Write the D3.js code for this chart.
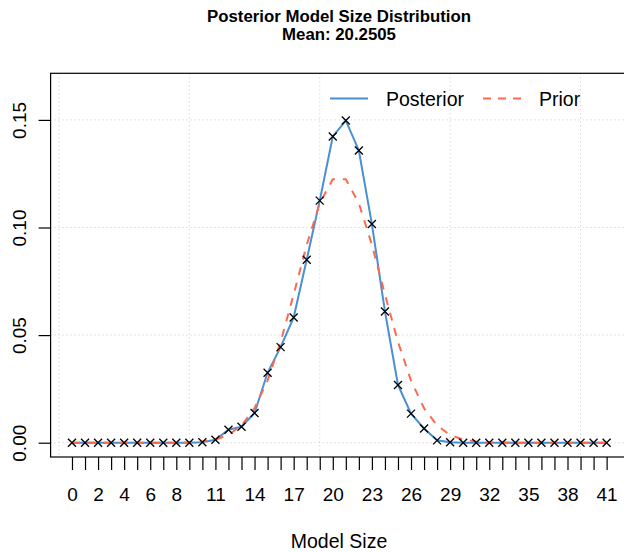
<!DOCTYPE html>
<html>
<head>
<meta charset="utf-8">
<script src="https://cdn.jsdelivr.net/npm/d3@7.9.0/dist/d3.min.js"></script>
<style>
  body { margin: 0; background: #fff; }
  svg { display: block; font-family: "Liberation Sans", Arial, sans-serif; }
</style>
</head>
<body>
<svg id="chart" width="624" height="552"></svg>
<script>
// model sizes 0..41
const modelSizes = d3.range(0, 42);

// posterior model size probabilities
const posterior = [
  0, 0, 0, 0, 0, 0, 0, 0, 0, 0,
  0.0002, 0.0014, 0.0060, 0.0074, 0.0138, 0.0325, 0.0444, 0.0582, 0.0850, 0.1125,
  0.1423, 0.1497, 0.1358, 0.1016, 0.0610, 0.0268, 0.0135, 0.0066, 0.0011, 0.0002,
  0, 0, 0, 0, 0, 0, 0, 0, 0, 0, 0, 0
];

// prior model size probabilities
const prior = [
  0, 0, 0, 0, 0, 0, 0, 0.00001, 0.00004, 0.00016,
  0.00051, 0.00144, 0.00359, 0.00801, 0.01603, 0.02885, 0.04687, 0.06893, 0.09191, 0.11126,
  0.12238, 0.12238, 0.11126, 0.09191, 0.06893, 0.04687, 0.02885, 0.01603, 0.00801, 0.00359,
  0.00144, 0.00051, 0.00016, 0.00004, 0.00001, 0, 0, 0, 0, 0, 0, 0
];

const xTickLabels = [0, 2, 4, 6, 8, 11, 14, 17, 20, 23, 26, 29, 32, 35, 38, 41];
const yTicks = [0, 0.05, 0.10, 0.15];
const xGrid = [-1, 9, 19, 29, 39];
const legendItems = ["Posterior", "Prior"];

const titleLines = ["Posterior Model Size Distribution", "Mean: 20.2505"];

const blue = "#4a8fd4";
const red = "#fb6a4e";

const plotL = 50.6, plotR = 628, plotT = 73.3, plotB = 457;

const svg = d3.select("#chart");

const x = d3.scaleLinear().domain([-1.64, 42.64]).range([plotL, plotR]);
const y = d3.scaleLinear().domain([-0.00664, 0.17165]).range([plotB, plotT]);

// grid
svg.append("g")
  .selectAll("line")
  .data(xGrid)
  .join("line")
  .attr("x1", d => x(d)).attr("x2", d => x(d))
  .attr("y1", plotT).attr("y2", plotB)
  .attr("stroke", "#c8c8c8").attr("stroke-dasharray", "1,3");

svg.append("g")
  .selectAll("line")
  .data(yTicks)
  .join("line")
  .attr("x1", plotL).attr("x2", plotR)
  .attr("y1", d => y(d)).attr("y2", d => y(d))
  .attr("stroke", "#c8c8c8").attr("stroke-dasharray", "1,3");

// lines
const line = d3.line().x((d, i) => x(modelSizes[i])).y(d => y(d));

svg.append("path")
  .attr("d", line(posterior))
  .attr("fill", "none")
  .attr("stroke", blue)
  .attr("stroke-width", 2);

svg.append("path")
  .attr("d", line(prior))
  .attr("fill", "none")
  .attr("stroke", red)
  .attr("stroke-width", 2)
  .attr("stroke-dasharray", "8,8");

// crosses
const s = 4;
svg.append("g")
  .selectAll("path")
  .data(posterior)
  .join("path")
  .attr("d", (d, i) => {
    const cx = x(modelSizes[i]), cy = y(d);
    return `M${cx - s},${cy - s}L${cx + s},${cy + s}M${cx - s},${cy + s}L${cx + s},${cy - s}`;
  })
  .attr("stroke", "#000")
  .attr("stroke-width", 1.3);

// box
svg.append("rect")
  .attr("x", plotL).attr("y", plotT)
  .attr("width", plotR - plotL).attr("height", plotB - plotT)
  .attr("fill", "none").attr("stroke", "#000").attr("stroke-width", 1.2);

// x axis
const xAxis = svg.append("g").attr("transform", `translate(0,${plotB})`)
  .call(d3.axisBottom(x).tickValues(modelSizes).tickSize(13).tickPadding(18)
    .tickFormat(d => xTickLabels.includes(d) ? d : ""));
xAxis.select(".domain").remove();
xAxis.selectAll("line").attr("stroke", "#000").attr("stroke-width", 1.2);
xAxis.selectAll("text")
  .attr("font-size", 19).attr("font-family", "Liberation Sans, Arial, sans-serif")
  .attr("fill", "#000");

// y axis
const yAxis = svg.append("g").attr("transform", `translate(${plotL},0)`)
  .call(d3.axisLeft(y).tickValues(yTicks).tickSize(12).tickFormat(d3.format(".2f")));
yAxis.select(".domain").remove();
yAxis.selectAll("line").attr("stroke", "#000").attr("stroke-width", 1.2);
yAxis.selectAll("text")
  .attr("font-size", 19).attr("font-family", "Liberation Sans, Arial, sans-serif")
  .attr("fill", "#000")
  .attr("x", null).attr("dy", null)
  .attr("text-anchor", "middle")
  .attr("transform", "translate(-25,0) rotate(-90)");

// axis title
svg.append("text")
  .attr("x", 339).attr("y", 548)
  .attr("text-anchor", "middle")
  .attr("font-size", 19.5)
  .text("Model Size");

// title
svg.append("g")
  .selectAll("text")
  .data(titleLines)
  .join("text")
  .attr("x", 339).attr("y", (d, i) => 22 + i * 18)
  .attr("text-anchor", "middle")
  .attr("font-size", 16.8)
  .attr("font-weight", "bold")
  .text(d => d);

// legend
const legendX = [330, 483];
const lg = svg.append("g");
legendItems.forEach((name, i) => {
  lg.append("line")
    .attr("x1", legendX[i]).attr("x2", legendX[i] + 38)
    .attr("y1", 98.5).attr("y2", 98.5)
    .attr("stroke", i === 0 ? blue : red)
    .attr("stroke-width", 2)
    .attr("stroke-dasharray", i === 0 ? null : "8,7");
  lg.append("text")
    .attr("x", legendX[i] + 56).attr("y", 105.5)
    .attr("font-size", 19.5)
    .text(name);
});
</script>
</body>
</html>
